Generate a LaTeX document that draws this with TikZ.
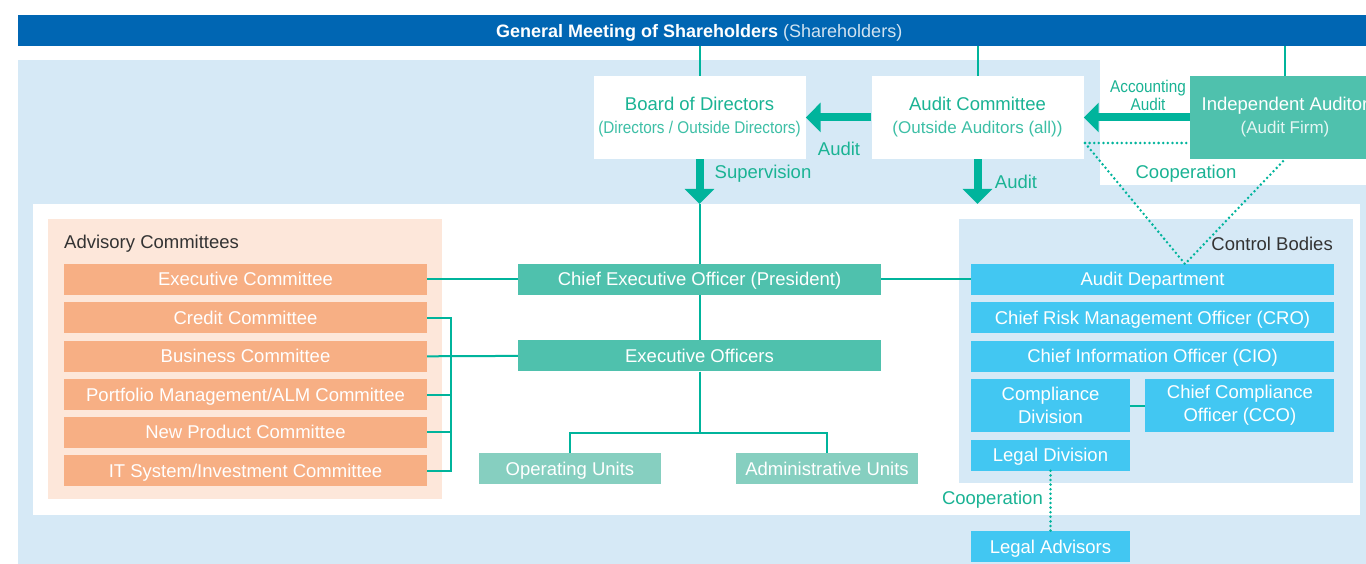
\documentclass[tikz,border=0pt]{standalone}
\usepackage{fontspec}
\setmainfont{Liberation Sans}
\newfontfamily\narrowfont[FakeStretch=0.9]{Liberation Sans}
\usetikzlibrary{positioning, arrows.meta}
\definecolor{gmblue}{HTML}{0066B3}
\definecolor{bgblue}{HTML}{D6E9F6}
\definecolor{tealline}{HTML}{00B49C}
\definecolor{tealtext}{HTML}{1AB394}
\definecolor{tealsub}{HTML}{3DBFA6}
\definecolor{ceofill}{HTML}{4FC1AD}
\definecolor{unitfill}{HTML}{86CFC0}
\definecolor{cyanfill}{HTML}{42C7F2}
\definecolor{salmonfill}{HTML}{F7AF84}
\definecolor{peachfill}{HTML}{FDE7DA}
\definecolor{titlegray}{HTML}{333333}
\newcommand{\subtxt}[1]{{\fontsize{17}{20}\selectfont #1}}
\newcommand{\narrowtxt}[1]{{\narrowfont\fontsize{17}{20}\selectfont #1}}

\begin{document}
\begin{tikzpicture}[
  x=1pt, y=-1pt,
  node distance=7pt,
  font=\fontsize{18.5}{23}\selectfont,
  panel/.style={rectangle, inner sep=0pt, anchor=north west},
  oneline/.style={text height=15pt, text depth=2pt},
  topbox/.style={rectangle, fill=white, text=tealtext, minimum width=212pt,
                 minimum height=83pt, align=center, inner sep=0pt},
  comm/.style={rectangle, fill=salmonfill, text=white, minimum width=363pt,
               minimum height=31pt, inner sep=0pt, oneline},
  ctrl/.style={rectangle, fill=cyanfill, text=white, minimum width=363pt,
               minimum height=31pt, inner sep=0pt, oneline},
  ctrltwo/.style={rectangle, fill=cyanfill, text=white, minimum height=53pt,
                  inner sep=0pt, align=center},
  officer/.style={rectangle, fill=ceofill, text=white, minimum width=363pt,
                  minimum height=31pt, inner sep=0pt, oneline},
  unit/.style={rectangle, fill=unitfill, text=white, minimum width=182pt,
               minimum height=31pt, inner sep=0pt, oneline},
  lbl/.style={text=tealtext, inner sep=0pt},
  heading/.style={text=titlegray, inner sep=0pt},
  link/.style={draw=tealline, line width=2pt},
  coop/.style={draw=tealline, line width=2.8pt, line cap=round,
               dash pattern=on 0pt off 4.6pt},
  bigarrow/.style={draw=tealline, line width=8pt,
                   -{Triangle[length=15pt, width=29pt]}}
]
\clip (0,0) rectangle (1366,564);

% Background panels
\node[panel, fill=bgblue, minimum width=1348pt, minimum height=504pt]
  (outer) at (18,60) {};
\node[panel, fill=white, minimum width=266pt, minimum height=125pt]
  (notch) at (1100,60) {};
\node[panel, fill=white, minimum width=1327pt, minimum height=311pt]
  (mainpanel) at (33,204) {};
\node[panel, fill=peachfill, minimum width=394pt, minimum height=280pt]
  (advpanel) at (48,219) {};
\node[panel, fill=bgblue, minimum width=394pt, minimum height=264pt]
  (ctrlpanel) at (959,219) {};

% Shareholders bar
\node[panel, fill=gmblue, text=white, minimum width=1362pt, minimum height=31pt,
      font=\fontsize{18}{22}\selectfont, text height=15pt, text depth=2pt]
  (gm) at (18,15) {\textbf{General Meeting of Shareholders}
  {\color{white!82!gmblue}(Shareholders)}};

% Board level
\node[topbox] (board) at (699.5,117.5)
  {Board of Directors\\\narrowtxt{\color{tealsub}(Directors / Outside Directors)}};
\node[topbox] (audit) at (977.5,117.5)
  {Audit Committee\\\subtxt{\color{tealsub}(Outside Auditors (all))}};
\node[topbox, fill=ceofill, text=white, minimum width=190pt] (indep) at (1285,117.5)
  {Independent Auditor\\\subtxt{\color{white!85!ceofill}(Audit Firm)}};

% Advisory committees
\node[heading, anchor=west] (advtitle) at (64,244) {Advisory Committees};
\node[comm] (exec) at (245.5,279.5) {Executive Committee};
\node[comm, below=of exec]      (credit)    {Credit Committee};
\node[comm, below=of credit]    (business)  {Business Committee};
\node[comm, below=of business]  (portfolio) {Portfolio Management/ALM Committee};
\node[comm, below=6pt of portfolio] (newprod) {New Product Committee};
\node[comm, below=of newprod]   (itsys)     {IT System/Investment Committee};

% Executive line
\node[officer] (ceo) at (699.5,279.5) {Chief Executive Officer (President)};
\node[officer, below=45pt of ceo] (eo) {Executive Officers};
\node[unit] (opunits) at (570,468.5) {Operating Units};
\node[unit] (adminunits) at (827,468.5) {Administrative Units};

% Control bodies
\node[heading, anchor=east] (ctrltitle) at (1333,244) {Control Bodies};
\node[ctrl] (auditdept) at (1152.5,279.5) {Audit Department};
\node[ctrl, below=of auditdept] (cro) {Chief Risk Management Officer (CRO)};
\node[ctrl, below=of cro]       (cio) {Chief Information Officer (CIO)};
\node[ctrltwo, minimum width=159pt,
      below=7pt of cio.south west, anchor=north west] (comp) {Compliance\\Division};
\node[ctrltwo, minimum width=189pt, right=15pt of comp]
  (cco) {Chief Compliance\\Officer (CCO)};
\node[ctrl, minimum width=159pt, below=of comp] (legal) {Legal Division};
\node[ctrl, minimum width=159pt, below=60pt of legal] (advisors) {Legal Advisors};

% Labels
\node[lbl] (lblaudit1) at (839,149) {Audit};
\node[lbl, align=center, font=\narrowfont\fontsize{17}{18}\selectfont]
  (lblacc) at (1148,95) {Accounting\\Audit};
\node[lbl] (lblsup) at (763,174) {Supervision};
\node[lbl] (lblaudit2) at (1016,182) {Audit};
\node[lbl] (lblcoop1) at (1186,174) {Cooperation};
\node[lbl, anchor=east] (lblcoop2) at (1043,500) {Cooperation};

% Connectors from the shareholders bar
\draw[link] (board.north |- gm.south) -- (board.north);
\draw[link] (audit.north |- gm.south) -- (audit.north);
\draw[link] (indep.north |- gm.south) -- (indep.north);

% Audit arrows
\draw[bigarrow] (audit.west) -- (board.east);
\draw[bigarrow] (indep.west) -- (audit.east);
\draw[bigarrow] (board.south) -- (board.south |- mainpanel.north);
\draw[bigarrow] (audit.south) -- (audit.south |- mainpanel.north);

% Cooperation (dotted)
\coordinate (coopL) at (1085,143);
\coordinate (coopV) at (1185,264);
\draw[coop] (coopL) -- (coopL -| indep.west);
\draw[coop] (coopL) -- (coopV) -- (indep.south);
\draw[coop] (legal.south) -- (advisors.north);

% Reporting lines
\draw[link] (board.south |- mainpanel.north) -- (ceo.north);
\draw[link] (ceo.south) -- (eo.north);
\draw[link] (exec.east) -- (ceo.west);
\draw[link] (ceo.east) -- (auditdept.west);
\draw[link] (business.east) -- (eo.west);
\draw[link] (credit.east) -- ++(24,0) |- (itsys.east);
\foreach \c in {portfolio, newprod}
  \draw[link] (\c.east) -- ++(24,0);
\draw[link] (eo.south) -- ++(0,61) -| (opunits.north);
\draw[link] (eo.south) -- ++(0,61) -| (adminunits.north);
\draw[link] (comp) -- (cco);

\end{tikzpicture}
\end{document}
